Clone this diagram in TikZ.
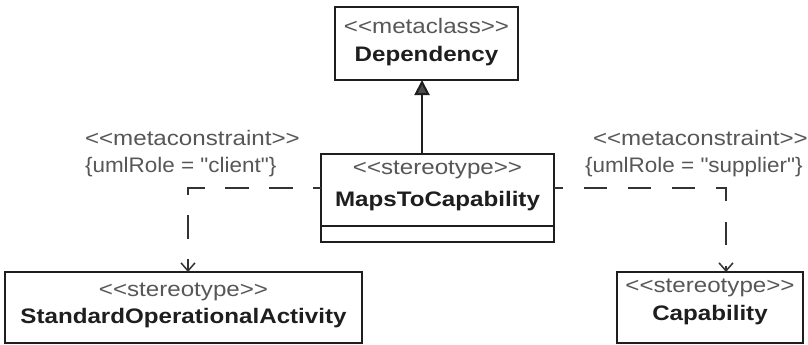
\documentclass[tikz,border=0pt]{standalone}
\usepackage{fontspec}
\newfontfamily\umlfont{Liberation Sans}[FakeStretch=1.15]
\newfontfamily\umlfontn{Liberation Sans}[FakeStretch=1.07]
\usetikzlibrary{arrows.meta,calc}
\definecolor{boxline}{HTML}{1E1E1E}
\definecolor{greytext}{HTML}{575757}
\definecolor{dashline}{HTML}{333333}
\begin{document}
\begin{tikzpicture}[x=1pt,y=-1pt,
  every node/.style={inner sep=0pt,outer sep=0pt,font=\umlfont\fontsize{21}{24}\selectfont},
  umlbox/.style={draw=boxline,line width=2pt,rectangle},
  stereo/.style={text=greytext},
  umlname/.style={text=boxline,font=\umlfont\fontsize{21}{24}\selectfont\bfseries},
  lbl/.style={text=greytext,anchor=west},
  rolelbl/.style={lbl,font=\umlfontn\fontsize{21}{24}\selectfont},
  depend/.style={draw=dashline,line width=1.5pt,-{Straight Barb[length=8pt,width=14pt]}},
  inherit/.style={draw=boxline,line width=2pt,-{Triangle[length=15pt,width=15pt,fill=boxline!80]}}
]
\useasboundingbox (0,0) rectangle (808,345);
\fill[white] (0,0) rectangle (808,345);

% boxes
\node[umlbox,minimum width=183pt,minimum height=73pt] (dep) at (426.5,43.5) {};
\node[stereo] (depst) at (426.5,26) {<<metaclass>>};
\node[umlname] (depnm) at (426.5,56) {Dependency};

\node[umlbox,minimum width=233pt,minimum height=88pt] (maps) at (437.5,198) {};
\node[stereo] (mapsst) at (437.5,170) {<<stereotype>>};
\node[umlname] (mapsnm) at (437.5,201) {MapsToCapability};
\draw[draw=boxline,line width=1.5pt] (maps.west |- 0,226) -- (maps.east |- 0,226);

\node[umlbox,minimum width=357pt,minimum height=71pt] (soa) at (183.5,307.5) {};
\node[stereo] (soast) at (183.5,292) {<<stereotype>>};
\node[umlname] (soanm) at (183.5,318) {StandardOperationalActivity};

\node[umlbox,minimum width=186pt,minimum height=71pt] (cap) at (710,307.5) {};
\node[stereo] (capst) at (710,288) {<<stereotype>>};
\node[umlname] (capnm) at (710,315) {Capability};

% labels
\node[lbl] (l1) at (85,138) {<<metaconstraint>>};
\node[rolelbl] (l2) at (85,167) {\{umlRole = "client"\}};
\node[lbl] (r1) at (593,138) {<<metaconstraint>>};
\node[rolelbl] (r2) at (585,167) {\{umlRole = "supplier"\}};

% connectors
\coordinate (ihx) at (422,0);
\draw[inherit] (maps.north -| ihx) -- (dep.south -| ihx);

\coordinate (lc) at (188,188);
\coordinate (rc) at (726,188);
\draw[depend,dash pattern=on 24pt off 20pt,dash phase=16pt] (maps.west |- lc) -| (soa.north -| lc);
\draw[depend,dash pattern=on 23pt off 21pt,dash phase=14pt] (maps.east |- rc) -| (cap.north -| rc);
\end{tikzpicture}
\end{document}
